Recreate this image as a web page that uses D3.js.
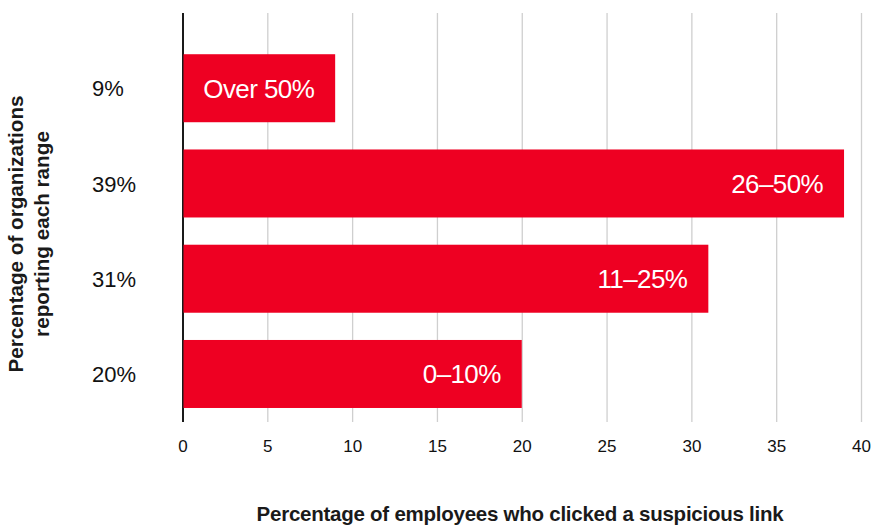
<!DOCTYPE html>
<html>
<head>
<meta charset="utf-8">
<script src="https://cdn.jsdelivr.net/npm/d3@7"></script>
<style>
  html, body { margin: 0; padding: 0; background: #fff; }
  svg { display: block; font-family: "Liberation Sans", Arial, Helvetica, sans-serif; }
</style>
</head>
<body>
<svg id="chart" width="872" height="525"></svg>
<script>
// Click-rate ranges, top to bottom
const ranges = ["Over 50%", "26\u201350%", "11\u201325%", "0\u201310%"];
// Share of organizations reporting each range (%)
const shares = [9, 39, 31, 20];
const shareLabels = ["9%", "39%", "31%", "20%"];
const xTicks = [0, 5, 10, 15, 20, 25, 30, 35, 40];

const xTitle = "Percentage of employees who clicked a suspicious link";
const yTitleLines = ["Percentage of organizations", "reporting each range"];

const data = ranges.map((r, i) => ({ range: r, value: shares[i], label: shareLabels[i] }));

const svg = d3.select("#chart");
const red = "#ee0022";

const x = d3.scaleLinear().domain([0, 40]).range([182.5, 861]);
const y = d3.scaleBand()
  .domain(ranges)
  .range([40.6, 421.6])
  .paddingInner(0.286)
  .paddingOuter(0.143);

const plotTop = 13, plotBottom = 422;

// vertical gridlines and tick labels
const xAxis = d3.axisBottom(x)
  .tickValues(xTicks)
  .tickSize(-(plotBottom - plotTop))
  .tickFormat(d3.format("d"));

const gx = svg.append("g")
  .attr("transform", `translate(0,${plotBottom})`)
  .call(xAxis);
gx.select(".domain").remove();
gx.selectAll(".tick line")
  .attr("stroke", d => d === 0 ? "#1a1a1a" : "#cfcfcf")
  .attr("stroke-width", d => d === 0 ? 2 : 1.3);
gx.selectAll(".tick text")
  .attr("fill", "#111")
  .attr("font-size", 17)
  .attr("font-family", "Liberation Sans, Arial, sans-serif")
  .attr("dy", "0.71em")
  .attr("y", 18);

// bars
svg.append("g").selectAll("rect")
  .data(data)
  .join("rect")
  .attr("x", x(0) + 1)
  .attr("y", d => y(d.range))
  .attr("width", d => x(d.value) - x(0) - 1)
  .attr("height", y.bandwidth())
  .attr("fill", red);

// range labels inside bars
svg.append("g").selectAll("text")
  .data(data)
  .join("text")
  .attr("x", d => x(d.value) - 21)
  .attr("y", d => y(d.range) + y.bandwidth() / 2)
  .attr("dy", "0.36em")
  .attr("text-anchor", "end")
  .attr("fill", "#fff")
  .attr("font-size", 26)
  .attr("letter-spacing", -0.6)
  .text(d => d.range);

// share labels left of the axis
svg.append("g").selectAll("text")
  .data(data)
  .join("text")
  .attr("x", 92)
  .attr("y", d => y(d.range) + y.bandwidth() / 2)
  .attr("dy", "0.37em")
  .attr("fill", "#111")
  .attr("font-size", 22)
  .text(d => d.label);

// axis titles
svg.append("text")
  .attr("x", 520)
  .attr("y", 521)
  .attr("text-anchor", "middle")
  .attr("font-weight", "bold")
  .attr("font-size", 20.5)
  .attr("letter-spacing", -0.25)
  .attr("fill", "#1a1a1a")
  .text(xTitle);

const yt = svg.append("text")
  .attr("transform", "translate(0,234) rotate(-90)")
  .attr("text-anchor", "middle")
  .attr("font-weight", "bold")
  .attr("font-size", 20.7)
  .attr("fill", "#1a1a1a");
yt.selectAll("tspan")
  .data(yTitleLines)
  .join("tspan")
  .attr("x", 0)
  .attr("y", (d, i) => 23 + i * 26)
  .text(d => d);
</script>
</body>
</html>
